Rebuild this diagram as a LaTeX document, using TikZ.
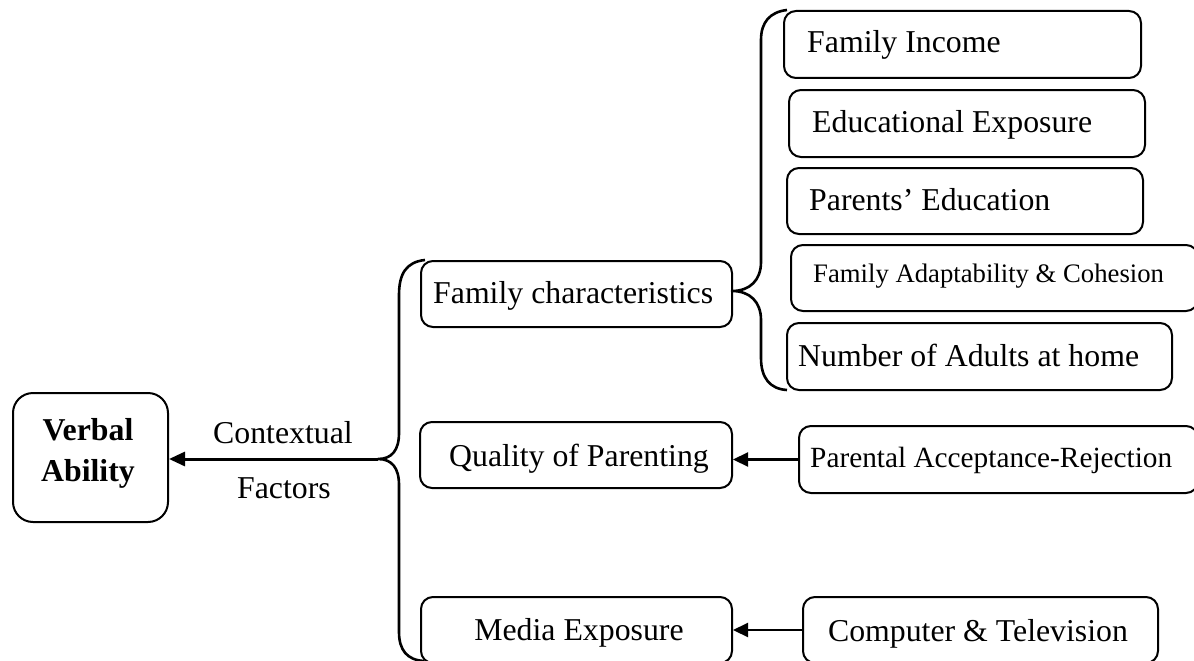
\documentclass[tikz,border=0pt]{standalone}
\usepackage{fontspec}
\setmainfont{Liberation Serif}
\usetikzlibrary{arrows.meta}

\tikzset{
  box/.style={draw, line width=2pt, rounded corners=12pt, inner sep=0pt},
  txt/.style={inner sep=0pt, font=\fontsize{31.8}{36}\selectfont},
  brace/.style={line width=2.6pt, line join=round},
  link/.style={line width=2.2pt, -{Triangle[length=15pt,width=14pt]}},
  mainlink/.style={line width=3pt, -{Triangle[length=16pt,width=14pt]}},
}

\begin{document}
\begin{tikzpicture}[x=1pt, y=-1pt]
\useasboundingbox (0,0) rectangle (1194,661);
\clip (0,0) rectangle (1194,661);

% outcome box
\node[box, rounded corners=20pt, minimum width=155pt, minimum height=129pt] (va) at (90.5,457.5) {};
\node[txt, anchor=base, font=\fontsize{31.8}{36}\selectfont\bfseries] (va1) at (88,440) {Verbal};
\node[txt, anchor=base, font=\fontsize{31.8}{36}\selectfont\bfseries] (va2) at (88,481) {Ability};

% middle column
\node[box, minimum width=311pt, minimum height=66pt] (fam) at (576.5,294) {};
\node[box, minimum width=312pt, minimum height=66pt] (qual) at (576,455) {};
\node[box, minimum width=311pt, minimum height=66pt] (media) at (576.5,630) {};
\node[txt, anchor=base west] (famt) at (433,303) {Family characteristics};
\node[txt, anchor=base] (qualt) at (579,466) {Quality of Parenting};
\node[txt, anchor=base] (mediat) at (579,640) {Media Exposure};

% right column
\node[box, minimum width=357pt, minimum height=67pt] (inc) at (962.5,44.5) {};
\node[box, minimum width=356pt, minimum height=67pt] (edu) at (967,123.5) {};
\node[box, minimum width=356pt, minimum height=66pt] (par) at (965,201) {};
\node[box, minimum width=407pt, minimum height=66pt] (ada) at (994.5,278) {};
\node[box, minimum width=385pt, minimum height=67pt] (num) at (979.5,356.5) {};
\node[box, minimum width=399pt, minimum height=67pt] (acc) at (998.5,459.5) {};
\node[box, minimum width=355pt, minimum height=66pt] (comp) at (980.5,630) {};

\node[txt, anchor=base west] (inct) at (807,53) {Family Income};
\node[txt, anchor=base west] (edut) at (812,132) {Educational Exposure};
\node[txt, anchor=base west] (part) at (809,210) {Parents’ Education};
\node[txt, anchor=base west, font=\fontsize{26.7}{30}\selectfont] (adat) at (813,282) {Family Adaptability \& Cohesion};
\node[txt, anchor=base west] (numt) at (798,366) {Number of Adults at home};
\node[txt, anchor=base west, font=\fontsize{29.3}{34}\selectfont] (acct) at (810,467) {Parental Acceptance-Rejection};
\node[txt, anchor=base] (compt) at (978,641) {Computer \& Television};

% labels on the main arrow
\node[txt, anchor=base] (ctx) at (283,443) {Contextual};
\node[txt, anchor=base] (fac) at (284,498) {Factors};

% braces
\coordinate (tip) at (378,459);
\coordinate (ftip) at (732,291);
\draw[brace] (425,260) .. controls (406,262) and (399,274) .. (399,295)
  -- (399,433) .. controls (399,450) and (392,459) .. (tip)
  .. controls (392,459) and (399,468) .. (399,485)
  -- (399,632) .. controls (399,650) and (407,660) .. (424,661);
\draw[brace] (787,10) .. controls (770,12) and (761,22) .. (761,40)
  -- (761,262) .. controls (761,280) and (750,291) .. (ftip)
  .. controls (750,291) and (761,302) .. (761,320)
  -- (761,358) .. controls (761,378) and (770,389) .. (787,390);

% connectors
\draw[mainlink] (tip) -- (va.east |- tip);
\draw[link] (acc.west) -- (qual.east |- acc.west);
\draw[link] (comp.west) -- (media.east |- comp.west);
\end{tikzpicture}
\end{document}
